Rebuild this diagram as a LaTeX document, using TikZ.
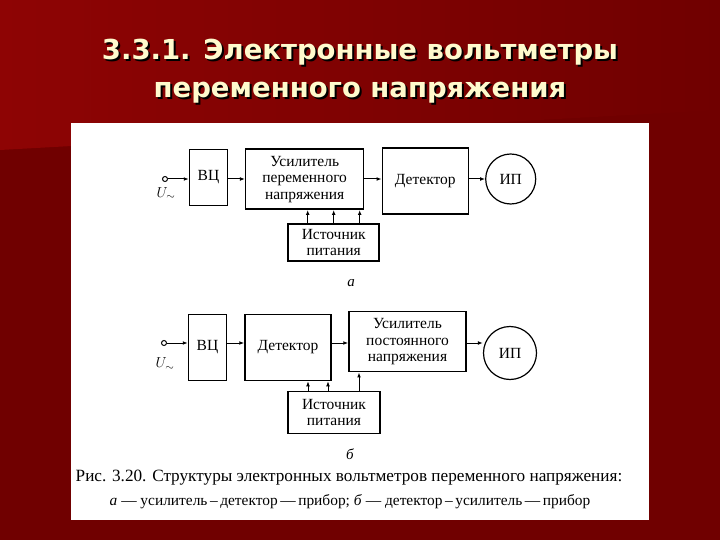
\documentclass[tikz,border=0pt]{standalone}
\usepackage{fontspec}
\setmainfont{Liberation Serif}
\newfontfamily\titlefont{DejaVu Sans}
\usetikzlibrary{arrows.meta, calc}

\definecolor{bgtop}{RGB}{142,4,4}
\definecolor{bgdark}{RGB}{112,0,0}
\definecolor{titlecol}{RGB}{255,250,205}

\begin{document}
\begin{tikzpicture}[x=1pt, y=-1pt,
    blk/.style={draw, line width=1.5pt, inner sep=0pt, align=center,
        font=\fontsize{15.5}{16.5}\selectfont},
    meter/.style={draw, circle, line width=1.2pt, minimum size=#1, inner sep=0pt,
        font=\fontsize{15.5}{17}\selectfont},
    sig/.style={line width=1pt, -{Latex[length=5pt,width=3.8pt]}},
    term/.style={draw, circle, line width=1pt, minimum size=5pt, inner sep=0pt},
    lbl/.style={font=\itshape\fontsize{15}{17}\selectfont},
    ttl/.style={font=\titlefont\bfseries\fontsize{27.5}{38}\selectfont, align=center}]

    % background and white sheet
    \useasboundingbox (0,0) rectangle (720,540);
    \fill[bgdark] (0,0) rectangle (720,540);
    \shade[left color=bgtop, right color=bgdark] (0,0) -- (720,0) -- (720,110) -- (0,150) -- cycle;
    \fill[white] (71,123) rectangle (649,520);

    % title with shadow
    \node[ttl, text=black] (titleshadow) at (362,73) {3.3.1. Электронные вольтметры\\переменного напряжения};
    \node[ttl, text=titlecol] (title) at (360,71) {3.3.1. Электронные вольтметры\\переменного напряжения};

    % scheme a
    \node[term] (ina) at (165,179) {};
    \node[blk, minimum width=38pt, minimum height=56pt] (vca) at (208.5,177.5) {ВЦ};
    \node[blk, minimum width=118pt, minimum height=60pt] (usa) at (304.7,179.2) {Усилитель\\переменного\\напряжения};
    \node[blk, minimum width=86pt, minimum height=66pt] (deta) at (425.3,181.2) {Детектор};
    \node[meter=50pt] (ipa) at (510.7,179) {ИП};
    \node[blk, minimum width=91pt, minimum height=37pt] (srca) at (333.7,242.5) {Источник\\питания};

    \draw[sig] (ina) -- (ina -| vca.west);
    \draw[sig] (vca.east |- ina) -- (ina -| usa.west);
    \draw[sig] (usa.east |- ina) -- (ina -| deta.west);
    \draw[sig] (deta.east |- ina) -- (ipa.west);
    \foreach \dx in {-26,0,26} {
        \draw[sig] ([xshift=\dx pt]srca.north) -- ([xshift=\dx pt]srca.north |- usa.south);
    }

    \node[lbl] (ua) at (166,194) {$U_{\sim}$};
    \node[lbl] (capa) at (351,283) {а};

    % scheme b
    \node[term] (inb) at (164,343) {};
    \node[blk, minimum width=38pt, minimum height=66pt] (vcb) at (207.5,347.5) {ВЦ};
    \node[blk, minimum width=86pt, minimum height=66pt] (detb) at (288,347.5) {Детектор};
    \node[blk, minimum width=117pt, minimum height=60pt] (usb) at (407.5,341.7) {Усилитель\\постоянного\\напряжения};
    \node[meter=53pt] (ipb) at (510,353) {ИП};
    \node[blk, minimum width=92pt, minimum height=42pt] (srcb) at (334,412.5) {Источник\\питания};

    \draw[sig] (inb) -- (inb -| vcb.west);
    \draw[sig] (vcb.east |- inb) -- (inb -| detb.west);
    \draw[sig] (detb.east |- inb) -- (inb -| usb.west);
    \draw[sig] (usb.east |- inb) -- (inb -| ipb.west);
    \foreach \dx in {-26,-6} {
        \draw[sig] ([xshift=\dx pt]srcb.north) -- ([xshift=\dx pt]srcb.north |- detb.south);
    }
    \draw[sig] ([xshift=25pt]srcb.north) -- ([xshift=25pt]srcb.north |- usb.south);

    \node[lbl] (ub) at (165,364) {$U_{\sim}$};
    \node[lbl] (capb) at (350,454) {б};

    % caption
    \node[font=\fontsize{17.2}{19}\selectfont] (cap1) at (349,478)
        {Рис. 3.20. Структуры электронных вольтметров переменного напряжения:};
    \node[font=\fontsize{15.4}{17}\selectfont] (cap2) at (350,502)
        {\textit{а} — усилитель\,–\,детектор\,—\,прибор; \textit{б} — детектор\,–\,усилитель\,—\,прибор};
\end{tikzpicture}
\end{document}
